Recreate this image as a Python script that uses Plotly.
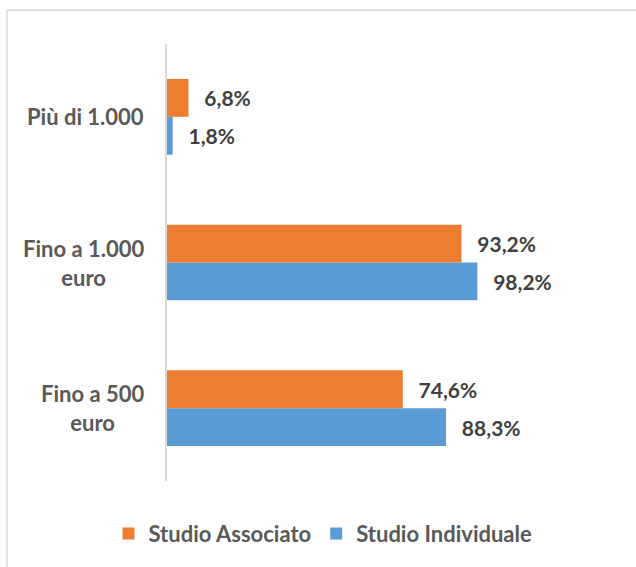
import plotly.graph_objects as go

categories = ["Fino a 500 euro", "Fino a 1.000 euro", "Più di 1.000"]
category_labels = ["Fino a 500<br>euro", "Fino a 1.000<br>euro", "Più di 1.000"]
studio_associato = [74.6, 93.2, 6.8]
studio_individuale = [88.3, 98.2, 1.8]

ORANGE = "#ED7D31"
BLUE = "#5B9BD5"
FONT = "Lato"
W, H = 636, 567
L, R, T, B = 167, 21, 44, 84
PW = W - L - R
PH = H - T - B
XMAX = PW / 3.16

fig = go.Figure()
common = dict(
    orientation="h",
    texttemplate="\u00a0\u00a0\u2009%{x:.1f}%",
    textposition="outside",
    constraintext="none",
    cliponaxis=False,
    outsidetextfont=dict(family=FONT, size=21, color="#404040", weight="bold"),
)
fig.add_trace(go.Bar(y=categories, x=studio_individuale, name="Studio Individuale",
                     marker=dict(color=BLUE, line=dict(width=0)), legendrank=2, **common))
fig.add_trace(go.Bar(y=categories, x=studio_associato, name="Studio Associato",
                     marker=dict(color=ORANGE, line=dict(width=0)), legendrank=1, **common))

for cat, lab in zip(categories, category_labels):
    fig.add_annotation(x=0, xref="paper", y=cat, yref="y", text=lab, showarrow=False,
                       xanchor="right", xshift=-21, align="center",
                       font=dict(family=FONT, size=22, color="#595959", weight="bold"))

def px_x(p):
    return (p - L) / PW

def px_y(p):
    return (H - B - p) / PH

# chart border (top and left visible)
fig.add_shape(type="line", xref="paper", yref="paper", x0=px_x(7), x1=px_x(700),
              y0=px_y(10), y1=px_y(10), line=dict(color="#D9D9D9", width=1.5))
fig.add_shape(type="line", xref="paper", yref="paper", x0=px_x(7), x1=px_x(7),
              y0=px_y(10), y1=px_y(700), line=dict(color="#D9D9D9", width=1.5))

fig.update_layout(
    width=W, height=H,
    margin=dict(l=L, r=R, t=T, b=B, pad=0),
    paper_bgcolor="white", plot_bgcolor="white",
    separators=",.",
    barmode="group",
    bargap=0.48,
    bargroupgap=0,
    xaxis=dict(range=[0, XMAX], visible=False, showgrid=False, zeroline=False),
    yaxis=dict(showticklabels=False, showgrid=False, zeroline=False, ticks="",
               showline=True, linecolor="#D9D9D9", linewidth=1.5,
               categoryorder="array", categoryarray=categories),
    showlegend=True,
    legend=dict(orientation="h", x=px_x(323), xanchor="center", y=px_y(536), yanchor="middle",
                font=dict(family=FONT, size=22, color="#595959", weight="bold"),
                itemwidth=30, bgcolor="rgba(0,0,0,0)"),
)

fig.write_html("out.html", config={"displayModeBar": False},
               post_script="document.body.style.margin='0';")
